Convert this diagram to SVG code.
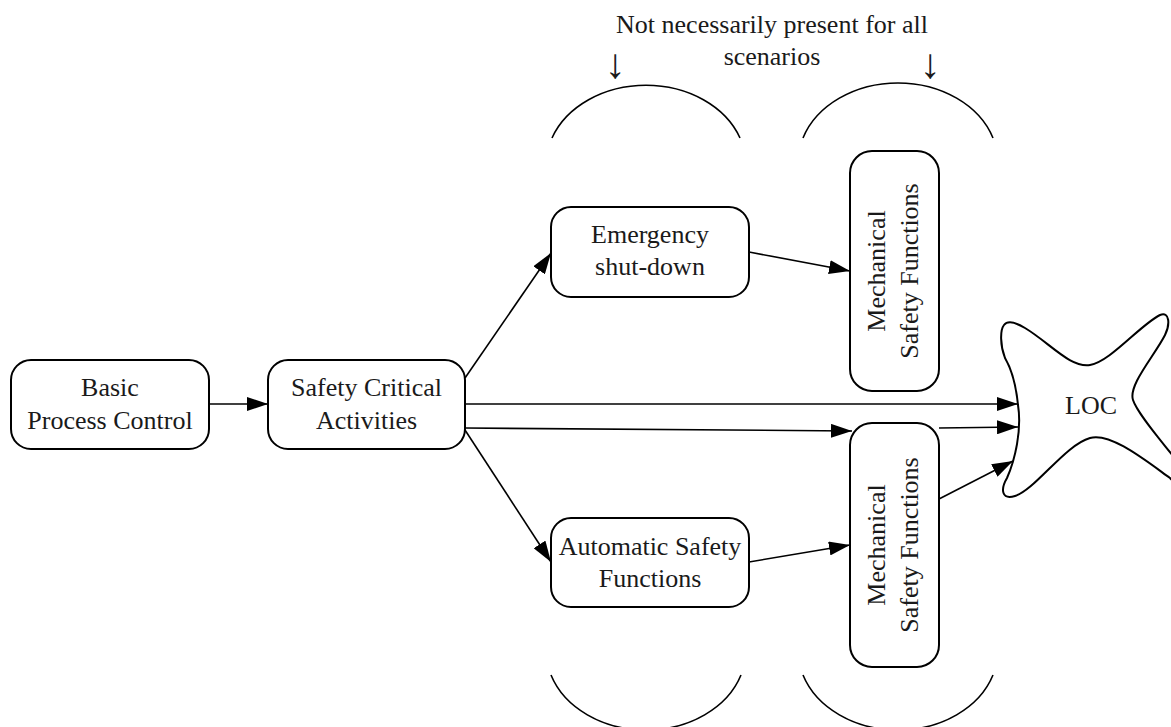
<svg xmlns="http://www.w3.org/2000/svg" width="1171" height="727" viewBox="0 0 1171 727">
<style>
.box{fill:#fff;stroke:#000;stroke-width:2}
.lbl{font-family:"Liberation Serif","DejaVu Serif",serif;font-size:26px;fill:#1a1a1a;text-anchor:middle}
.arr{font-family:"Liberation Serif","DejaVu Serif",serif;font-size:42px;fill:#1a1a1a;text-anchor:middle}
.edge{fill:none;stroke:#000;stroke-width:1.6}
.brace{fill:none;stroke:#000;stroke-width:1.6}
</style>
<defs>
<marker id="ah" markerUnits="userSpaceOnUse" markerWidth="22" markerHeight="14" refX="21" refY="7" orient="auto">
<path d="M0,0 L21,7 L0,14 Z" fill="#000"/>
</marker>
</defs>
<rect width="1171" height="727" fill="#fff"/>

<g id="note">
<text class="lbl" x="772" y="33">Not necessarily present for all</text>
<text class="lbl" x="772" y="65">scenarios</text>
<text class="arr" x="615" y="78">↓</text>
<text class="arr" x="930" y="78">↓</text>
</g>

<g id="braces">
<path class="brace" d="M552,138 A100,80 0 0 1 740,138"/>
<path class="brace" d="M803,138 A100,80 0 0 1 993,138"/>
<path class="brace" d="M551,675 A100,80 0 0 0 741,675"/>
<path class="brace" d="M803,675 A100,80 0 0 0 993,675"/>
</g>

<g id="connectors">
<line class="edge" x1="209" y1="404" x2="268" y2="404" marker-end="url(#ah)"/>
<line class="edge" x1="465" y1="378" x2="551" y2="253" marker-end="url(#ah)"/>
<line class="edge" x1="749" y1="252" x2="850" y2="271" marker-end="url(#ah)"/>
<line class="edge" x1="465" y1="404" x2="1018" y2="404" marker-end="url(#ah)"/>
<line class="edge" x1="465" y1="428" x2="852" y2="431" marker-end="url(#ah)"/>
<line class="edge" x1="939" y1="428" x2="1018" y2="427" marker-end="url(#ah)"/>
<line class="edge" x1="465" y1="430" x2="551" y2="562" marker-end="url(#ah)"/>
<line class="edge" x1="749" y1="562" x2="850" y2="545" marker-end="url(#ah)"/>
<line class="edge" x1="939" y1="499" x2="1013" y2="461" marker-end="url(#ah)"/>
</g>

<g id="basic-process-control">
<rect class="box" x="11" y="360" width="198" height="89" rx="20"/>
<text class="lbl" x="110" y="396">Basic</text>
<text class="lbl" x="110" y="429">Process Control</text>
</g>

<g id="safety-critical-activities">
<rect class="box" x="268" y="360" width="197" height="89" rx="20"/>
<text class="lbl" x="366.5" y="396">Safety Critical</text>
<text class="lbl" x="366.5" y="429">Activities</text>
</g>

<g id="emergency-shutdown">
<rect class="box" x="551" y="207" width="198" height="90" rx="20"/>
<text class="lbl" x="650" y="243">Emergency</text>
<text class="lbl" x="650" y="275">shut-down</text>
</g>

<g id="automatic-safety-functions">
<rect class="box" x="551" y="518" width="198" height="89" rx="20"/>
<text class="lbl" x="650" y="555">Automatic Safety</text>
<text class="lbl" x="650" y="587">Functions</text>
</g>

<g id="mechanical-top">
<rect class="box" x="850" y="151" width="89" height="240" rx="22"/>
<g transform="translate(885,271) rotate(-90)">
<text class="lbl" x="0" y="0">Mechanical</text>
<text class="lbl" x="0" y="33">Safety Functions</text>
</g>
</g>

<g id="mechanical-bottom">
<rect class="box" x="850" y="423" width="89" height="244" rx="22"/>
<g transform="translate(885,545) rotate(-90)">
<text class="lbl" x="0" y="0">Mechanical</text>
<text class="lbl" x="0" y="33">Safety Functions</text>
</g>
</g>

<g id="loc">
<path class="box" d="M1005,358 C1000,345 1000,330 1004,325 C1008,320 1015,322 1025,328 C1050,343 1070,368 1090,365 C1110,362 1140,325 1160,315 C1170,311 1170,325 1165,335 C1155,355 1128,385 1133,400 C1138,415 1165,445 1180,465 C1190,480 1180,490 1170,478 C1145,460 1110,432 1090,438 C1065,445 1035,490 1015,496 C1002,500 1000,490 1007,478 C1015,460 1022,430 1018,405 C1016,385 1012,370 1005,358 Z"/>
<text class="lbl" x="1091" y="414">LOC</text>
</g>
</svg>
